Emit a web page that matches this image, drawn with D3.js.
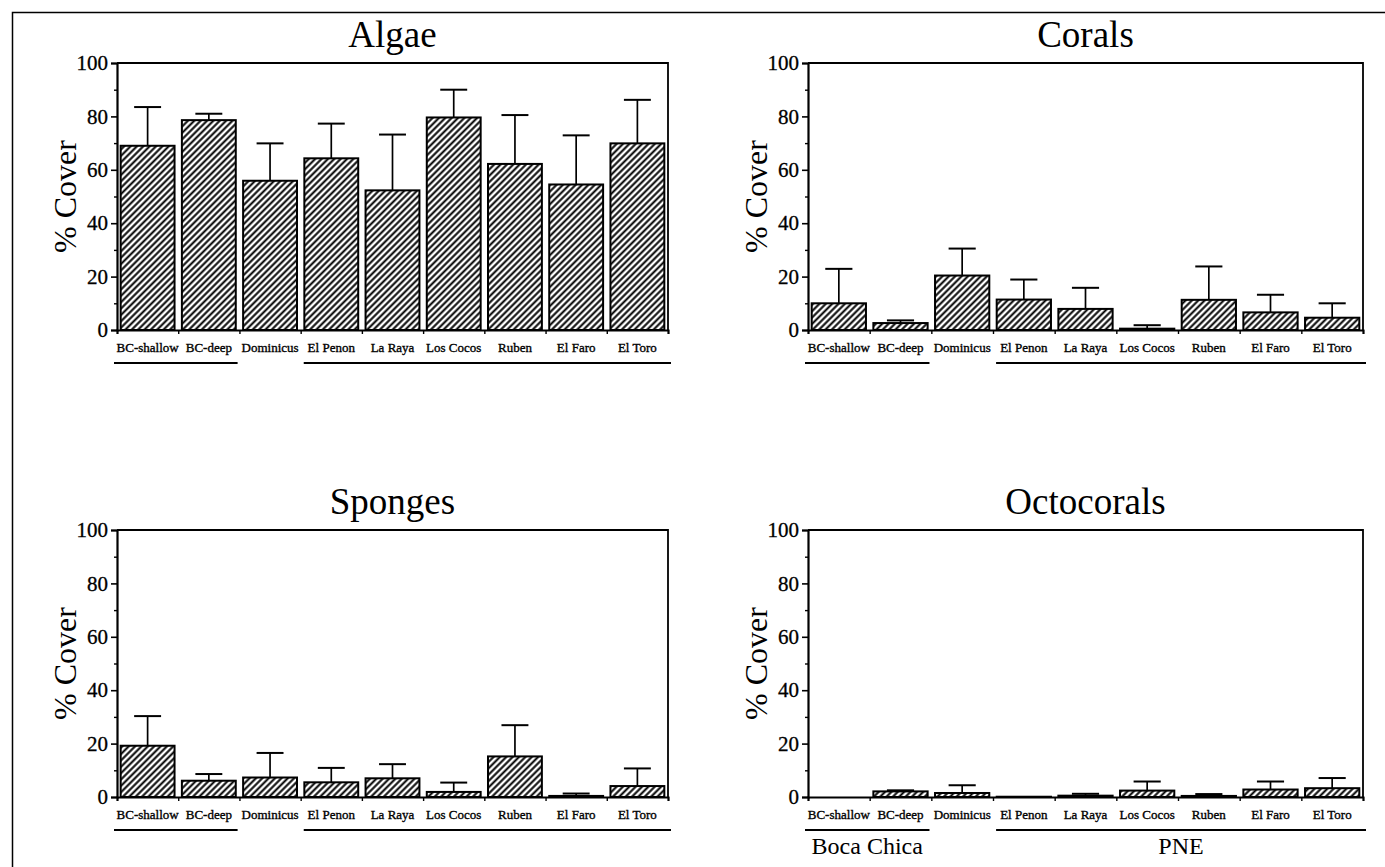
<!DOCTYPE html>
<html>
<head>
<meta charset="utf-8">
<script src="https://cdn.jsdelivr.net/npm/d3@7"></script>
<style>
  html, body { margin: 0; padding: 0; background: #fff; }
  svg { display: block; }
  svg text { font-family: 'Liberation Serif', 'Times New Roman', Times, serif !important; fill: #000; }
</style>
</head>
<body>
<svg id="chart" width="1385" height="867" font-family="'Liberation Serif', serif"></svg>
<script>
// ---- Data ----
const categories = ["BC-shallow", "BC-deep", "Dominicus", "El Penon", "La Raya", "Los Cocos", "Ruben", "El Faro", "El Toro"];
const yTicks = [0, 20, 40, 60, 80, 100];
const yMinorTicks = [10, 30, 50, 70, 90];
const groupLabels = ["Boca Chica", "PNE"];

const algaeMean = [69.0, 78.6, 55.9, 64.3, 52.3, 79.6, 62.2, 54.5, 69.9];
const algaeSD   = [14.5, 2.4, 14.0, 13.0, 20.9, 10.4, 18.3, 18.4, 16.3];

const coralsMean = [10.0, 2.6, 20.4, 11.4, 7.9, 0.5, 11.3, 6.6, 4.6];
const coralsSD   = [12.9, 1.0, 10.1, 7.5, 7.9, 1.3, 12.5, 6.6, 5.4];

const spongesMean = [19.2, 6.1, 7.3, 5.5, 7.0, 1.9, 15.2, 0.4, 4.1];
const spongesSD   = [11.1, 2.5, 9.2, 5.4, 5.3, 3.5, 11.7, 0.9, 6.6];

const octoMean = [0, 2.1, 1.5, 0.1, 0.5, 2.4, 0.4, 2.8, 3.3];
const octoSD   = [0, 0.4, 2.9, 0, 0.7, 3.4, 0.7, 3.0, 3.8];

// ---- Layout ----
const FONT = "'Liberation Serif', 'Times New Roman', serif";
const svg = d3.select("#chart");

// outer border (top + left visible)
svg.append("path")
  .attr("d", "M12.5,867 V12.5 H1385")
  .attr("fill", "none").attr("stroke", "#000").attr("stroke-width", 1.5);

const defs = svg.append("defs");
const S = 4.5;
const pat = defs.append("pattern")
  .attr("id", "hatch")
  .attr("patternUnits", "userSpaceOnUse")
  .attr("width", S).attr("height", S)
  .attr("patternTransform", "rotate(45)");
pat.append("rect").attr("width", S).attr("height", S).attr("fill", "#fff");
pat.append("line").attr("x1", S / 2).attr("y1", -1).attr("x2", S / 2).attr("y2", S + 1)
  .attr("stroke", "#000").attr("stroke-width", 2.0);

const panels = [
  { title: "Algae",      mean: algaeMean,   sd: algaeSD,   x0: 117, x1: 668,  y0: 63,  y1: 330, groups: false },
  { title: "Corals",     mean: coralsMean,  sd: coralsSD,  x0: 808, x1: 1363, y0: 63,  y1: 330, groups: false },
  { title: "Sponges",    mean: spongesMean, sd: spongesSD, x0: 117, x1: 668,  y0: 530, y1: 797, groups: false },
  { title: "Octocorals", mean: octoMean,    sd: octoSD,    x0: 808, x1: 1363, y0: 530, y1: 797, groups: true }
];

panels.forEach(p => {
  const g = svg.append("g");
  const x = d3.scaleBand().domain(categories).range([p.x0, p.x1]).paddingInner(0.12).paddingOuter(0.06);
  const xb = d3.scaleLinear().domain([0, categories.length]).range([p.x0, p.x1]);
  const y = d3.scaleLinear().domain([0, 100]).range([p.y1, p.y0]);

  // title
  g.append("text")
    .attr("x", (p.x0 + p.x1) / 2).attr("y", p.y0 - 16)
    .attr("text-anchor", "middle")
    .attr("font-family", FONT)
    .style("font-size", "37px")
    .text(p.title);

  // y label
  g.append("text")
    .attr("transform", `translate(${p.x0 - 52},${(p.y0 + p.y1) / 2}) rotate(-90)`)
    .attr("text-anchor", "middle")
    .attr("dy", "0.35em")
    .attr("font-family", FONT)
    .style("font-size", "32px")
    .text("% Cover");

  // bars
  const data = categories.map((c, i) => ({ c, m: p.mean[i], s: p.sd[i] }));
  g.selectAll("rect.bar").data(data).enter().append("rect")
    .attr("class", "bar")
    .attr("x", d => x(d.c))
    .attr("y", d => y(d.m))
    .attr("width", x.bandwidth())
    .attr("height", d => y(0) - y(d.m))
    .attr("fill", "url(#hatch)")
    .attr("stroke", "#000")
    .attr("stroke-width", 2);

  // error bars
  const eb = data.filter(d => d.s > 0);
  const capW = x.bandwidth() * 0.5;
  g.selectAll("line.err").data(eb).enter().append("line")
    .attr("x1", d => x(d.c) + x.bandwidth() / 2).attr("x2", d => x(d.c) + x.bandwidth() / 2)
    .attr("y1", d => y(d.m)).attr("y2", d => y(d.m + d.s))
    .attr("stroke", "#000").attr("stroke-width", 1.7);
  g.selectAll("line.cap").data(eb).enter().append("line")
    .attr("x1", d => x(d.c) + x.bandwidth() / 2 - capW / 2).attr("x2", d => x(d.c) + x.bandwidth() / 2 + capW / 2)
    .attr("y1", d => y(d.m + d.s)).attr("y2", d => y(d.m + d.s))
    .attr("stroke", "#000").attr("stroke-width", 2);

  // frame top & right
  g.append("path")
    .attr("d", `M${p.x0},${p.y0} H${p.x1} V${p.y1}`)
    .attr("fill", "none").attr("stroke", "#000").attr("stroke-width", 1.8);

  // y axis
  const ya = g.append("g").attr("transform", `translate(${p.x0},0)`)
    .call(d3.axisLeft(y).tickValues(yTicks).tickSize(6).tickPadding(3).tickFormat(d3.format("d")));
  ya.attr("font-family", FONT).attr("font-size", null);
  ya.select(".domain").attr("stroke-width", 2.2);
  ya.selectAll(".tick line").attr("stroke-width", 1.6);
  ya.selectAll(".tick text").attr("font-family", FONT).style("font-size", "21px")
    .attr("stroke", "#000").attr("stroke-width", 0.3);
  const ym = g.append("g").attr("transform", `translate(${p.x0},0)`)
    .call(d3.axisLeft(y).tickValues(yMinorTicks).tickSize(3).tickFormat(""));
  ym.select(".domain").remove();
  ym.selectAll(".tick line").attr("stroke-width", 1.4);

  // x axis: boundary ticks
  const xa = g.append("g").attr("transform", `translate(0,${p.y1})`)
    .call(d3.axisBottom(xb).tickValues(d3.range(0, categories.length + 1)).tickSize(4).tickFormat(""));
  xa.select(".domain").attr("stroke-width", 2);
  xa.selectAll(".tick line").attr("stroke-width", 1.4);

  // category labels
  const xl = g.append("g").attr("transform", `translate(0,${p.y1})`)
    .call(d3.axisBottom(x).tickSize(0).tickPadding(13));
  xl.attr("font-family", FONT).attr("font-size", null);
  xl.select(".domain").remove();
  xl.selectAll(".tick text")
    .attr("font-family", FONT).style("font-size", "13px")
    .attr("stroke", "#000").attr("stroke-width", 0.35);

  // group underlines
  const uy = p.y1 + 33;
  const bcStart = p.x0 - 3, bcEnd = xb(1.97);
  const pneStart = xb(3.05), pneEnd = p.x1 + 3;
  g.append("line").attr("x1", bcStart).attr("x2", bcEnd).attr("y1", uy).attr("y2", uy)
    .attr("stroke", "#000").attr("stroke-width", 1.8);
  g.append("line").attr("x1", pneStart).attr("x2", pneEnd).attr("y1", uy).attr("y2", uy)
    .attr("stroke", "#000").attr("stroke-width", 1.8);

  if (p.groups) {
    g.append("text").attr("x", (bcStart + bcEnd) / 2).attr("y", uy + 24)
      .attr("text-anchor", "middle").attr("font-family", FONT).style("font-size", "24px").text(groupLabels[0]);
    g.append("text").attr("x", (pneStart + pneEnd) / 2).attr("y", uy + 24)
      .attr("text-anchor", "middle").attr("font-family", FONT).style("font-size", "24px").text(groupLabels[1]);
  }
});
</script>
</body>
</html>
